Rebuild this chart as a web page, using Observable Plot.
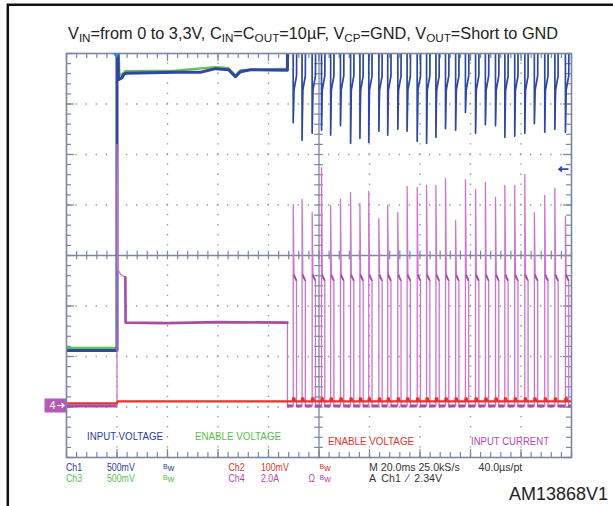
<!DOCTYPE html>
<html><head><meta charset="utf-8">
<script src="https://cdn.jsdelivr.net/npm/d3@7"></script>
<script src="https://cdn.jsdelivr.net/npm/@observablehq/plot@0.6"></script>
<style>body{margin:0;background:#fff} svg{display:block}</style>
</head><body><div id="chart"></div>
<script>
// ---- data (time in ms, trigger at 0; levels in screen divisions 0..8) ----
const pulseTimes = [69.8, 73.3, 77.3, 81.0, 84.6, 88.5, 92.5, 96.2, 99.7, 103.7, 107.2, 111.2, 114.9, 118.9, 122.6, 126.3, 130.1, 134.1, 138.0, 142.0, 145.9, 149.9, 153.6, 157.5, 161.5, 165.3, 169.4, 173.4, 177.6];
const currentPeaks = [5.01, 5.11, 4.85, 5.74, 4.99, 5.11, 5.25, 5.03, 5.27, 4.73, 4.99, 4.85, 5.37, 5.35, 5.39, 5.39, 5.52, 4.69, 5.50, 5.31, 5.45, 5.15, 5.39, 5.39, 5.60, 4.85, 5.19, 5.33, 4.77];
const inputDips = [6.63, 6.28, 6.42, 6.48, 6.38, 6.57, 6.22, 6.32, 6.24, 6.46, 6.38, 6.50, 6.46, 6.26, 6.22, 6.34, 6.51, 6.48, 6.83, 6.42, 6.59, 6.57, 6.34, 6.36, 6.42, 6.61, 6.44, 6.50, 6.44];
const inputStart = [[-20,2.12],[0,2.12],[0,8.3],[0.3,8.3],[0.6,7.48],[2.0,7.52],[2.6,7.58],[3.4,7.61],[13.3,7.62],[23.2,7.63],[33.1,7.63],[39.0,7.70],[44.2,7.68],[46.9,7.54],[48.9,7.64],[52.9,7.68],[67.5,7.67],[67.5,8.3]];
const enableStart = [[-20,2.17],[0,2.17],[0,8.3],[0.5,8.3],[1.0,7.55],[3.4,7.65],[23.2,7.66],[39.0,7.73],[44.2,7.71],[46.9,7.57],[48.9,7.67],[67.5,7.7],[67.5,8.3]];
const currentStart = [[-20,1.03],[0,1.03],[0,6.2],[0.4,3.72],[1.5,3.62],[3.3,3.57],[3.4,2.67],[20,2.66],[40,2.68],[67.5,2.67],[67.5,1.03]];
const enable2Start = [[-20,1.07],[0,1.07],[0.2,1.11],[67.5,1.11]];
const currentZero = 1.02, enable2Level = 1.11, enable2Bump = 1.17;
const inputRecovery = 7.27, inputPlateau = 7.55, offScreen = 8.3;
const currentPlateau = [3.62, 3.55, 3.50], pulseWidth = 1.3;
const traceLabels = ["INPUT VOLTAGE", "ENABLE VOLTAGE", "ENABLE VOLTAGE", "INPUT CURRENT"];
const infoRow1 = ["Ch1", "500mV", "Bw", "Ch2", "100mV", "Bw", "M 20.0ms 25.0kS/s", "40.0µs/pt"];
const infoRow2 = ["Ch3", "500mV", "Bw", "Ch4", "2.0A", "Ω", "Bw", "A  Ch1  ⁄  2.34V"];
const titleParts = [["V",0],["IN",1],["=from 0 to 3,3V, C",0],["IN",1],["=C",0],["OUT",1],["=10µF, V",0],["CP",1],["=GND, V",0],["OUT",1],["=Short to GND",0]];
const figureId = "AM13868V1";

// ---- styles ----
const BLUE = "#3245a6", GREEN = "#5cc34c", RED = "#e8322a", PINK = "#cc74cc", PINKD = "#a64ca8";
const FRAME = "#7a86a5", DOT = "#8e96aa";
const xDom = [-20, 180], yDom = [0, 8];

// build traces
const bluePulses = [[67.5,offScreen]].concat(pulseTimes.flatMap((t,i)=>[[t,offScreen],[t,inputDips[i]],[t+0.3,inputRecovery],[t+pulseWidth,inputPlateau],[t+pulseWidth+0.05,offScreen]]), [[180,offScreen]]);
const greenPulses = [[67.5,offScreen]].concat(pulseTimes.flatMap((t,i)=>[[t,offScreen],[t,inputDips[i]],[t+0.3,inputRecovery+0.04],[t+pulseWidth,inputPlateau+0.02],[t+pulseWidth+0.05,offScreen]]), [[180,offScreen]]);
const pink = currentStart.concat(pulseTimes.flatMap((t,i)=>[[t,currentZero],[t,currentPeaks[i]],[t+0.3,currentPlateau[0]],[t+0.6,currentPlateau[1]],[t+pulseWidth,currentPlateau[2]],[t+pulseWidth,currentZero]]), [[180,currentZero]]);
const red = enable2Start.concat(pulseTimes.flatMap(t=>[[t-0.1,enable2Level],[t,enable2Bump],[t+0.5,enable2Bump],[t+0.7,enable2Level]]), [[180,enable2Level]]);
const baseSegs = [[-20,0],[67.5,pulseTimes[0]]].concat(pulseTimes.map((t,i)=>[t+pulseWidth, i<pulseTimes.length-1 ? pulseTimes[i+1] : 180]));
const plateaus = pulseTimes.map(t=>[t+0.2,t+pulseWidth]);

const tickX = d3.range(xDom[0], xDom[1]+0.001, 4);
const tickY = d3.range(0, 8.001, 0.2);
const majX = d3.range(xDom[0], xDom[1]+0.001, 20);
const majY = d3.range(0, 8.001, 1);
const tk = 0.1, tkMs = 2;
const mk = 0.16, mkMs = 3.2;
const xy = {x: d => d[0], y: d => d[1], clip: true};

const plot = Plot.plot({
  width: 613, height: 506,
  marginLeft: 66, marginRight: 42, marginTop: 53, marginBottom: 49,
  x: {domain: xDom, axis: null}, y: {domain: yDom, axis: null},
  style: {background: "transparent", fontFamily: "Liberation Sans, Arial, sans-serif"},
  marks: [
    Plot.ruleX(majX.filter(d => d > xDom[0] && d < xDom[1] && d !== 80), {stroke: DOT, strokeWidth: 1.4, strokeDasharray: "1.4,8.7", strokeDashoffset: 0.7}),
    Plot.ruleY(majY.filter(d => d > 0 && d < 8 && d !== 4), {stroke: DOT, strokeWidth: 1.4, strokeDasharray: "1.4,8.7", strokeDashoffset: 0.7}),
    Plot.ruleX([80], {stroke: FRAME, strokeWidth: 1.3}),
    Plot.ruleY([4], {stroke: FRAME, strokeWidth: 1.3}),
    Plot.ruleX(tickX, {y1: 4 - 0.085, y2: 4 + 0.085, stroke: FRAME, strokeWidth: 1.2}),
    Plot.ruleY(tickY, {x1: 80 - 1.7, x2: 80 + 1.7, stroke: FRAME, strokeWidth: 1.2}),
    Plot.ruleX(tickX, {y1: 0, y2: tk, stroke: FRAME, strokeWidth: 1.2}),
    Plot.ruleX(tickX, {y1: 8 - tk, y2: 8, stroke: FRAME, strokeWidth: 1.2}),
    Plot.ruleY(tickY, {x1: xDom[0], x2: xDom[0] + tkMs, stroke: FRAME, strokeWidth: 1.2}),
    Plot.ruleY(tickY, {x1: xDom[1] - tkMs, x2: xDom[1], stroke: FRAME, strokeWidth: 1.2}),
    Plot.ruleX(majX, {y1: 0, y2: mk, stroke: FRAME, strokeWidth: 1.2}),
    Plot.ruleX(majX, {y1: 8 - mk, y2: 8, stroke: FRAME, strokeWidth: 1.2}),
    Plot.ruleY(majY, {x1: xDom[0], x2: xDom[0] + mkMs, stroke: FRAME, strokeWidth: 1.2}),
    Plot.ruleY(majY, {x1: xDom[1] - mkMs, x2: xDom[1], stroke: FRAME, strokeWidth: 1.2}),
    // traces
    Plot.line(enableStart, {...xy, stroke: GREEN, strokeWidth: 2.2}),
    Plot.line(greenPulses, {...xy, stroke: GREEN, strokeWidth: 1.2}),
    Plot.line(inputStart, {...xy, stroke: BLUE, strokeWidth: 3}),
    Plot.line(bluePulses, {...xy, stroke: BLUE, strokeWidth: 1.6}),
    Plot.line(pink, {...xy, stroke: PINK, strokeWidth: 1.3}),
    Plot.line(red, {...xy, stroke: RED, strokeWidth: 2.2}),
    Plot.ruleY(baseSegs, {x1: d => d[0], x2: d => d[1], y: currentZero, stroke: PINKD, strokeWidth: 3, clip: true}),
    Plot.link(plateaus, {x1: d => d[0], x2: d => d[1], y1: currentPlateau[0], y2: currentPlateau[2], stroke: PINKD, strokeWidth: 1.8}),
    Plot.line(currentStart.slice(5, 10), {x: d => d[0], y: d => d[1], stroke: PINKD, strokeWidth: 2.6}),
    Plot.frame({stroke: FRAME, strokeWidth: 1.6})
  ]
});
document.getElementById("chart").append(plot);

const svg = d3.select(plot);
const sx = plot.scale("x"), sy = plot.scale("y");
const FONT = "Liberation Sans, Arial, sans-serif";
function txt(x, y, size, fill) {
  return svg.append("text").attr("x", x).attr("y", y).attr("text-anchor", "start")
    .attr("font-family", FONT).attr("font-size", size).attr("fill", fill);
}

// black border of the figure
svg.append("path").attr("d", "M7.8,506V4.8H613").attr("fill", "none").attr("stroke", "#111").attr("stroke-width", 2.5);

// title
const title = txt(68, 39, 16.3, "#222");
let sub = 0;
titleParts.forEach(([s, isSub]) => {
  const ts = title.append("tspan").text(s);
  if (isSub && !sub) { ts.attr("dy", 3).attr("font-size", 11.7); sub = 1; }
  else if (isSub) { ts.attr("font-size", 11.7); }
  else if (sub) { ts.attr("dy", -3); sub = 0; }
});

function cond(sel, w) {
  const nat = sel.node().getComputedTextLength();
  sel.attr("textLength", w != null ? w : nat * 0.86).attr("lengthAdjust", "spacingAndGlyphs");
}

// trace labels inside the screen
const labelPos = [[87, 440, 76], [195, 440, 86], [328, 445, 86], [471, 445, 78]];
const labelCol = ["#2b3b9b", "#55c04c", "#dc332d", "#b446b0"];
traceLabels.forEach((s, i) => {
  const t = txt(labelPos[i][0], labelPos[i][1], 11, labelCol[i]).text(s);
  cond(t, labelPos[i][2]);
});

// info rows
const row1X = [66, 107, 163, 228.5, 261, 319.5, 369, 478.5];
const row1C = ["#2b3b9b", "#2b3b9b", "#2b3b9b", "#dc332d", "#dc332d", "#dc332d", "#333", "#333"];
const row2X = [66, 107, 163, 228.5, 261, 308.6, 319.5, 369];
const row2C = ["#55c04c", "#55c04c", "#55c04c", "#b446b0", "#b446b0", "#b446b0", "#b446b0", "#333"];
function infoRow(texts, xs, cols, y) {
  texts.forEach((s, i) => {
    const t = txt(xs[i], y, 10.2, cols[i]);
    if (s === "Bw") {
      t.append("tspan").attr("font-size", 7).attr("dy", -2).text("B");
      t.append("tspan").attr("font-size", 9).attr("dy", 2).text("w");
    } else if (i >= 6 && cols[i] === "#333") {
      t.attr("font-size", 10.6).text(s);
    } else { t.text(s); cond(t); }
  });
}
infoRow(infoRow1, row1X, row1C, 470.5);
infoRow(infoRow2, row2X, row2C, 481.5);

// figure id
svg.append("text").attr("x", 608).attr("y", 500).attr("text-anchor", "end").attr("font-family", FONT).attr("font-size", 18).attr("fill", "#222").text(figureId);

// channel 4 ground marker
const gy = sy.apply(currentZero);
svg.append("rect").attr("x", 44.5).attr("y", gy - 7).attr("width", 21.5).attr("height", 14).attr("fill", "#b55ab5");
txt(49.5, gy + 4, 11, "#fff").text("4");
svg.append("path").attr("d", `M57,${gy}H64M61.5,${gy - 2.2}L64,${gy}L61.5,${gy + 2.2}`).attr("stroke", "#fff").attr("stroke-width", 1.2).attr("fill", "none");

// trigger marker at top
const tx = sx.apply(0), ty = sy.apply(8);
svg.append("path").attr("d", `M${tx - 4},${ty}L${tx + 4},${ty}L${tx},${ty + 5}Z`).attr("fill", "#3a86d0");

// right-side level arrow (ch1)
const ay = sy.apply(5.7);
svg.append("path").attr("d", `M568.5,${ay}H559M562,${ay - 2.5}L559,${ay}L562,${ay + 2.5}`).attr("stroke", BLUE).attr("stroke-width", 1.6).attr("fill", "none");
</script>
</body></html>
